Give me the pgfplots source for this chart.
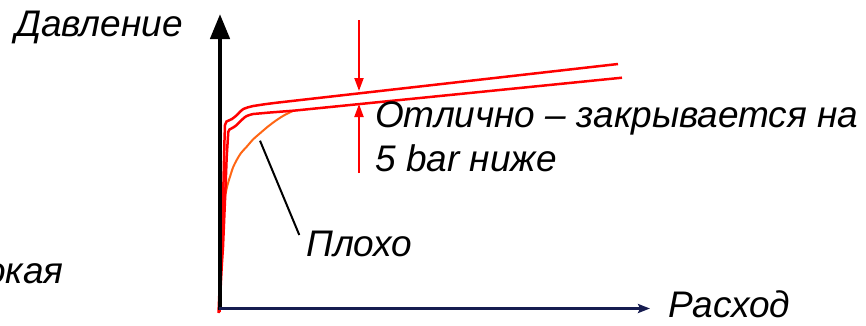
\documentclass[border=0pt]{standalone}
\usepackage{pgfplots}
\pgfplotsset{compat=1.18}
\usepackage{fontspec}
\setmainfont{Liberation Sans}
\usetikzlibrary{arrows.meta}
\definecolor{myred}{RGB}{255,0,0}
\definecolor{myorange}{RGB}{255,102,20}
\definecolor{navy}{RGB}{22,28,80}
\begin{document}
\begin{tikzpicture}
\begin{axis}[scale only axis, width=866pt, height=325pt,
  xmin=0, xmax=866, ymin=0, ymax=325, y dir=reverse,
  hide axis, clip=false]
\coordinate (bl) at (axis cs:0,325);
\coordinate (tr) at (axis cs:866,0);
% orange curve (Плохо)
\addplot[myorange, line width=2pt, smooth, no marks] coordinates {
(220.5,300) (221,260) (221.7,226.7) (223,210) (225,196.7) (227.5,185)
(230,176.7) (233,167.5) (236.7,160) (241,153) (246.7,146.7) (253,139.5)
(260,133.3) (268,126.5) (276.7,120) (285,114.8) (293.3,110.7)};
% upper red curve
\addplot[myred, line width=2.5pt, no marks] coordinates {
(218.5,313) (219.5,290) (220.5,265) (221.7,247) (223.3,190) (224.5,140)
(225,125) (226.5,121.5) (228.3,120.7) (232,119) (235,116.7) (238,114)
(240,111.7) (243.3,109) (248,107.3) (253.3,106) (265,104.2) (276.7,102.7)
(618,64)};
% lower red curve
\addplot[myred, line width=2.5pt, no marks] coordinates {
(219.5,312) (220.5,290) (221.8,265) (223,247) (225,200) (226.7,156.7)
(228.3,131.7) (229.5,129.5) (231.7,128.3) (234,127) (236.7,125) (239,122.5)
(241.7,120) (244,117.8) (246.7,116) (250,114.8) (253.3,114) (270,112.5)
(293.3,110.7) (622,77.7)};
% axes
\draw[line width=4.5pt, -{Triangle[length=25pt,width=19pt]}] (axis cs:220,310) -- (axis cs:220,14);
\draw[navy, line width=3pt, -{Stealth[length=12pt,width=9pt,inset=2pt]}] (axis cs:219,308.5) -- (axis cs:650,308.5);
% red arrows
\draw[myred, line width=2pt, -{Triangle[length=13pt,width=9pt]}] (axis cs:359,20) -- (axis cs:359,91);
\draw[myred, line width=2pt, -{Triangle[length=13pt,width=9pt]}] (axis cs:359,173) -- (axis cs:359,104);
% pointer line
\draw[black, line width=2pt] (axis cs:260,140.7) -- (axis cs:299.3,235);
% texts
\tikzset{lbl/.style={inner sep=0pt, font=\fontsize{37}{44}\selectfont\itshape}}
\node[lbl, anchor=base west] at (axis cs:15,36.5) {Давление};
\node[lbl, anchor=base west] at (axis cs:375,127) {Отлично – закрывается на};
\node[lbl, anchor=base west] at (axis cs:375,171) {5 bar ниже};
\node[lbl, anchor=base west] at (axis cs:306,256) {Плохо};
\node[lbl, anchor=base west] at (axis cs:668,317) {Расход};
\node[lbl, anchor=base east] at (axis cs:64,283) {Широкая};
\end{axis}
\pgfresetboundingbox
\path[use as bounding box] (bl) rectangle (tr);
\end{tikzpicture}
\end{document}
